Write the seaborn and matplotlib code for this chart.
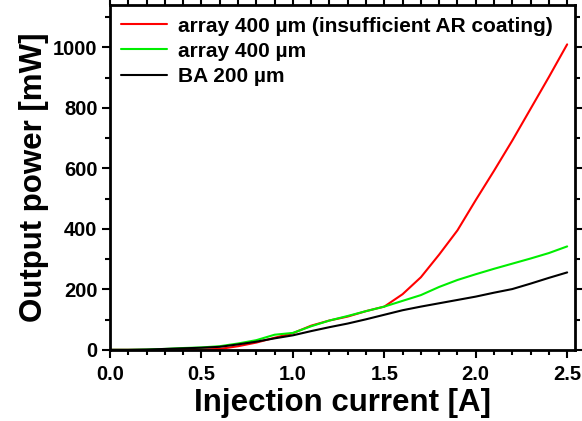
import numpy as np
import pandas as pd
import matplotlib
matplotlib.use("Agg")
import matplotlib.pyplot as plt
import seaborn as sns
from matplotlib.ticker import MultipleLocator

current = [0.0, 0.1, 0.2, 0.3, 0.4, 0.5, 0.6, 0.7, 0.8, 0.9, 1.0, 1.1, 1.2, 1.3,
           1.4, 1.5, 1.6, 1.7, 1.8, 1.9, 2.0, 2.1, 2.2, 2.3, 2.4, 2.5]
array_insuff = [0, 0, 0, 0, 1, 1, 3, 12, 24, 40, 55, 80, 97, 110, 128, 143, 184,
                240, 315, 395, 495, 592, 692, 797, 902, 1010]
array_400 = [0, 0, 1, 3, 6, 8, 12, 21, 32, 50, 56, 78, 97, 112, 128, 143, 162,
             181, 208, 231, 250, 268, 285, 302, 320, 342]
ba_200 = [0, 0, 1, 3, 5, 7, 10, 18, 27, 38, 48, 62, 75, 87, 101, 116, 131, 143,
          154, 165, 176, 189, 201, 219, 238, 256]
labels = ["array 400 \u00b5m (insufficient AR coating)", "array 400 \u00b5m", "BA 200 \u00b5m"]
colors = ["#ff0000", "#00ee00", "#000000"]

df = pd.concat([
    pd.DataFrame({"I": current, "P": vals, "s": lab})
    for vals, lab in zip([array_insuff, array_400, ba_200], labels)
])

sns.set_style("ticks")
plt.rcParams['font.family'] = ['Liberation Sans', 'DejaVu Sans']
plt.rcParams['font.weight'] = 'bold'
plt.rcParams['text.color'] = 'black'
plt.rcParams['axes.labelcolor'] = 'black'
plt.rcParams['xtick.color'] = 'black'
plt.rcParams['ytick.color'] = 'black'
plt.rcParams['axes.edgecolor'] = 'black'

fig = plt.figure(figsize=(5.82, 4.21), dpi=100)
ax = fig.add_axes([0.189, 0.169, 0.799, 0.819])
sns.lineplot(data=df, x="I", y="P", hue="s", palette=colors, hue_order=labels,
             ax=ax, linewidth=1.5, legend=True)

ax.set_xlim(0, 2.543)
ax.set_ylim(0, 1140)
ax.xaxis.set_major_locator(MultipleLocator(0.5))
ax.xaxis.set_minor_locator(MultipleLocator(0.1))
ax.yaxis.set_major_locator(MultipleLocator(200))
ax.yaxis.set_minor_locator(MultipleLocator(100))
ax.xaxis.set_major_formatter(matplotlib.ticker.FormatStrFormatter('%.1f'))

for sp in ax.spines.values():
    sp.set_linewidth(2)
    sp.set_visible(True)
    sp.set_color('black')
ax.tick_params(which='both', direction='out', top=True, right=True, width=1.5,
               labelsize=14.5, colors='black')
ax.tick_params(which='major', length=6, pad=3)
ax.tick_params(axis='x', which='major', pad=5)
ax.tick_params(which='minor', length=3.5)
for lab in ax.get_xticklabels() + ax.get_yticklabels():
    lab.set_fontweight('bold')

ax.set_xlabel("Injection current [A]", fontsize=22.5, fontweight='bold', labelpad=3, color='black')
ax.set_ylabel("Output power [mW]", fontsize=22.5, fontweight='bold', labelpad=3, color='black')

leg = ax.legend(loc='upper left', frameon=False, prop={'weight': 'bold', 'size': 15},
                handlelength=2.2, handletextpad=0.5, labelspacing=0.3,
                borderaxespad=0.15, bbox_to_anchor=(0.0, 1.0))
for t in leg.get_texts():
    t.set_color('black')

fig.savefig("out.png", dpi=100)
